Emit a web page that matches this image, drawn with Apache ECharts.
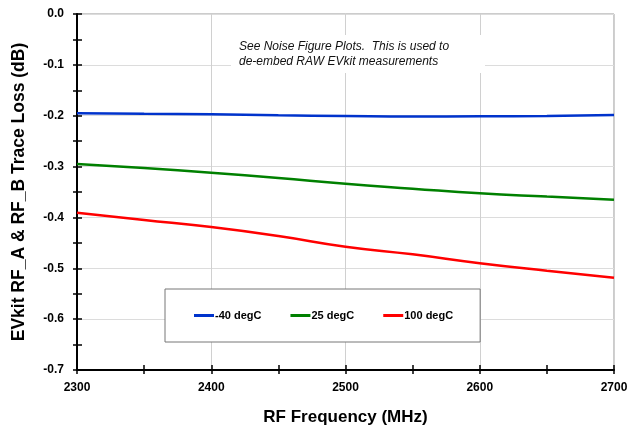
<!DOCTYPE html>
<html>
<head>
<meta charset="utf-8">
<script src="https://cdn.jsdelivr.net/npm/echarts@6/dist/echarts.min.js"></script>
<style>
  html, body { margin: 0; padding: 0; background: #fff; }
  #chart { width: 629px; height: 428px; }
</style>
</head>
<body>
<div id="chart"></div>
<script>
  // RF frequency in MHz
  var freq = [2300, 2350, 2400, 2450, 2500, 2550, 2600, 2650, 2700]
  // trace loss in dB
  var lossM40 = [-0.195, -0.196, -0.197, -0.199, -0.2005, -0.2015, -0.201, -0.2005, -0.1986]
  var loss25 = [-0.295, -0.303, -0.312, -0.3225, -0.334, -0.3435, -0.3526, -0.359, -0.365]
  var loss100 = [-0.391, -0.405, -0.419, -0.4365, -0.4575, -0.4725, -0.490, -0.5047, -0.5185]
  var seriesNames = ['-40 degC', '25 degC', '100 degC']
  var noteLines = ['See Noise Figure Plots.  This is used to', 'de-embed RAW EVkit measurements']

  function pairs (ys) {
    var out = []
    for (var i = 0; i < freq.length; i++) {
      out.push([freq[i], ys[i]])
    }
    return out
  }

  var font = '"Liberation Sans", Arial, sans-serif'
  var tickStyle = { color: '#000', width: 1.5 }
  var gridBox = { left: 77, right: 15, top: 14, bottom: 58, outerBoundsMode: 'none' }

  var chart = echarts.init(document.getElementById('chart'))
  var option = {
    animation: false,
    grid: [
      Object.assign({ show: true, borderColor: '#999', borderWidth: 1 }, gridBox),
      // twin grid: only carries the inner half of the crossing ticks
      Object.assign({ show: false }, gridBox),
    ],
    legend: {
      left: 165,
      top: 289,
      padding: [21, 27, 21, 29],
      itemGap: 29,
      itemWidth: 20,
      itemHeight: 3,
      icon: 'rect',
      borderColor: '#777',
      borderWidth: 1,
      backgroundColor: '#fff',
      data: seriesNames,
      textStyle: {
        fontFamily: font,
        fontWeight: 'bold',
        fontSize: 11,
        color: '#000',
        padding: [0, 0, 0, -4],
      },
    },
    xAxis: [
      {
        type: 'value',
        min: 2300,
        max: 2700,
        interval: 100,
        name: 'RF Frequency (MHz)',
        nameLocation: 'middle',
        nameGap: 39,
        nameTextStyle: { fontFamily: font, fontWeight: 'bold', fontSize: 17, color: '#000' },
        axisLine: { onZero: false, lineStyle: { color: '#000', width: 2 } },
        axisTick: { show: true, length: 4, lineStyle: tickStyle },
        minorTick: { show: true, splitNumber: 2, length: 4, lineStyle: tickStyle },
        axisLabel: {
          fontFamily: font, fontWeight: 'bold', fontSize: 12, color: '#000', margin: 12,
          formatter: function (v) { return String(v) },
        },
        splitLine: { show: true, lineStyle: { color: '#d0d0d0', width: 1 } },
      },
      {
        type: 'value',
        gridIndex: 1,
        position: 'bottom',
        min: 2300,
        max: 2700,
        interval: 100,
        axisLine: { show: false, onZero: false },
        axisTick: { show: true, inside: true, length: 5, lineStyle: tickStyle },
        minorTick: { show: true, splitNumber: 2, length: 5, lineStyle: tickStyle },
        axisLabel: { show: false },
        splitLine: { show: false },
      },
    ],
    yAxis: [
      {
        type: 'value',
        min: -0.7,
        max: 0,
        interval: 0.1,
        name: 'EVkit RF_A & RF_B Trace Loss (dB)',
        nameLocation: 'middle',
        nameGap: 49,
        nameTextStyle: { fontFamily: font, fontWeight: 'bold', fontSize: 17.5, color: '#000' },
        axisLine: { onZero: false, lineStyle: { color: '#000', width: 2 } },
        axisTick: { show: true, length: 4, lineStyle: tickStyle },
        minorTick: { show: true, splitNumber: 2, length: 4, lineStyle: tickStyle },
        axisLabel: {
          fontFamily: font, fontWeight: 'bold', fontSize: 12, color: '#000', margin: 13,
          formatter: function (v) { return v.toFixed(1) },
        },
        splitLine: { show: true, lineStyle: { color: '#dcdcdc', width: 1 } },
      },
      {
        type: 'value',
        gridIndex: 1,
        position: 'left',
        min: -0.7,
        max: 0,
        interval: 0.1,
        axisLine: { show: false, onZero: false },
        axisTick: { show: true, inside: true, length: 5, lineStyle: tickStyle },
        minorTick: { show: true, splitNumber: 2, length: 5, lineStyle: tickStyle },
        axisLabel: { show: false },
        splitLine: { show: false },
      },
    ],
    color: ['#0033cc', '#008000', '#ff0000'],
    series: [
      {
        name: seriesNames[0],
        type: 'line',
        smooth: true,
        symbol: 'none',
        lineStyle: { width: 2.5 },
        data: pairs(lossM40),
      },
      {
        name: seriesNames[1],
        type: 'line',
        smooth: true,
        symbol: 'none',
        lineStyle: { width: 2.5 },
        data: pairs(loss25),
      },
      {
        name: seriesNames[2],
        type: 'line',
        smooth: true,
        symbol: 'none',
        lineStyle: { width: 2.5 },
        data: pairs(loss100),
      },
    ],
    graphic: [
      {
        type: 'rect',
        left: 231,
        top: 35,
        shape: { width: 254, height: 38 },
        style: { fill: '#fff' },
        z: 10,
      },
      {
        type: 'text',
        left: 239,
        top: 39,
        z: 11,
        style: {
          text: noteLines.join('\n'),
          font: 'italic 12px ' + font,
          fill: '#111',
          lineHeight: 15,
        },
      },
    ],
  }
  chart.setOption(option)
</script>
</body>
</html>
